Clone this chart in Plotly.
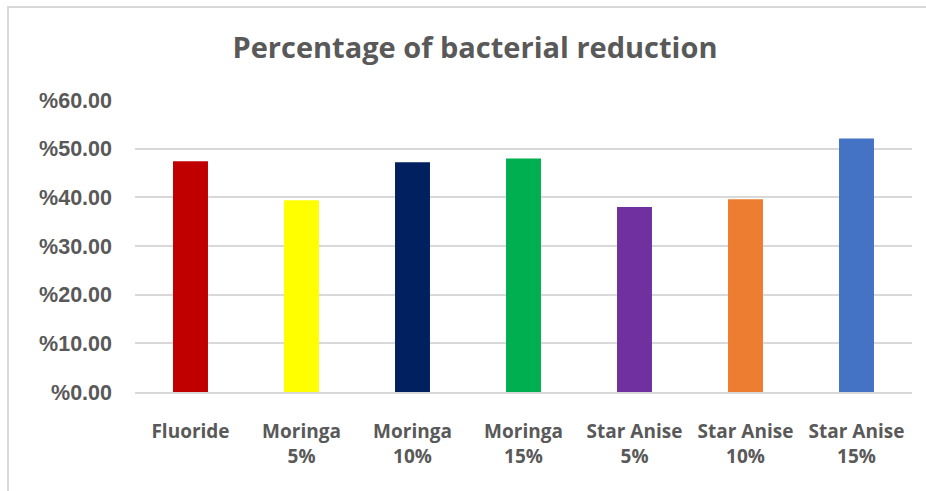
import plotly.graph_objects as go

categories = ["Fluoride", "Moringa<br>5%", "Moringa<br>10%", "Moringa<br>15%",
              "Star Anise<br>5%", "Star Anise<br>10%", "Star Anise<br>15%"]
values = [47.4, 39.4, 47.2, 48.0, 38.0, 39.6, 52.1]
colors = ["#C00000", "#FFFF00", "#002060", "#00B050", "#7030A0", "#ED7D31", "#4472C4"]
tick_vals = [0, 10, 20, 30, 40, 50, 60]
tick_text = ["%0.00", "%10.00", "%20.00", "%30.00", "%40.00", "%50.00", "%60.00"]

W, H = 926, 491
L, R, T, B = 135, 14, 100, 99
pw, ph = W - L - R, H - T - B

fig = go.Figure(go.Bar(x=categories, y=values, marker=dict(color=colors, line=dict(width=0)),
                       hoverinfo="x+y"))

fig.update_layout(
    width=W, height=H,
    margin=dict(l=L, r=R, t=T, b=B),
    paper_bgcolor="white", plot_bgcolor="white",
    bargap=0.685,
    showlegend=False,
    title=dict(text="<b>Percentage of bacterial reduction</b>",
               font=dict(family="Open Sans", size=29, color="#595959"),
               x=475 / W, xref="container", xanchor="center",
               y=1 - 48 / H, yref="container", yanchor="middle"),
    font=dict(color="#595959"),
    shapes=[dict(type="rect", xref="paper", yref="paper",
                 x0=(8 - L) / pw, x1=(W + 10 - L) / pw,
                 y0=-(B + 10) / ph, y1=(H - B - 7) / ph,
                 line=dict(color="#d9d9d9", width=2), fillcolor="rgba(0,0,0,0)", layer="below")],
)
fig.update_yaxes(range=[0, 60], tickvals=tick_vals, ticktext=tick_text,
                 tickfont=dict(family="Liberation Sans", size=21.5, color="#595959", weight="bold"),
                 showgrid=True, gridcolor="#d9d9d9", gridwidth=1.5,
                 zeroline=False, showline=False, ticks="", ticklabelstandoff=22)
fig.update_xaxes(tickfont=dict(family="Open Sans", size=19, color="#595959", weight="bold"),
                 showline=True, linecolor="#d9d9d9", linewidth=2, ticks="",
                 ticklabelstandoff=21)

fig.write_html("out.html")
